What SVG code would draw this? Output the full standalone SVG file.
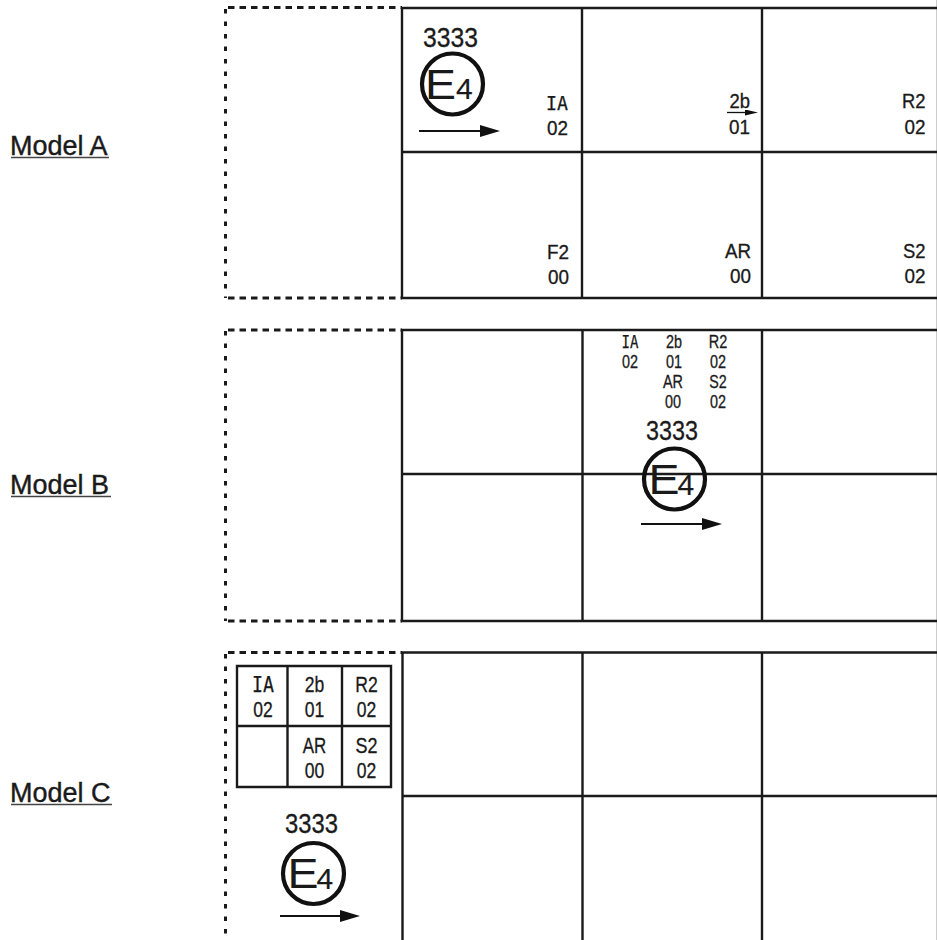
<svg xmlns="http://www.w3.org/2000/svg" width="937" height="940" viewBox="0 0 937 940">
<style>
.t{font-family:"Liberation Sans",Arial,sans-serif;fill:#1a1a1a;stroke:#1a1a1a;stroke-width:0.3}
.m{font-family:"DejaVu Sans Mono","Liberation Mono",monospace;fill:#1a1a1a;stroke:#1a1a1a;stroke-width:0.25}
.lbl{font-size:27px;stroke-width:0.4}
.a{font-size:19.5px;text-anchor:end}
.b{font-size:17.5px;text-anchor:middle}
.c{font-size:21.5px;text-anchor:middle}
.num{font-size:27px;text-anchor:middle}
.E{font-size:42px;stroke-width:0}
.four{font-size:30px;stroke-width:0.2}
.grid{stroke:#1a1a1a;stroke-width:2.4;fill:none}
.dh{stroke:#1a1a1a;stroke-width:3;stroke-dasharray:6.5 5;fill:none}
.dv{stroke:#1a1a1a;stroke-width:3;stroke-dasharray:4.5 8;fill:none}
.ul{stroke:#444;stroke-width:1.7}
.ring{stroke:#111;stroke-width:4.2;fill:none}
.arr{stroke:#111;stroke-width:2.2;marker-end:url(#ah)}
</style>
<defs>
<marker id="ah" markerUnits="userSpaceOnUse" markerWidth="20" markerHeight="12" refX="2" refY="6" orient="auto">
<path d="M0,0 L20,6 L0,12 z" fill="#111"/>
</marker>
<marker id="ahs" markerUnits="userSpaceOnUse" markerWidth="13" markerHeight="6" refX="1" refY="3" orient="auto">
<path d="M0,0 L13,3 L0,6 z" fill="#111"/>
</marker>
</defs>
<rect width="937" height="940" fill="#fff"/>
<line x1="936.5" y1="0" x2="936.5" y2="940" stroke="#ccc" stroke-width="1"/>

<g id="labels">
<g id="label-a"><text class="t lbl" x="10" y="155">Model A</text><line class="ul" x1="11" y1="157.5" x2="109" y2="157.5"/></g>
<g id="label-b"><text class="t lbl" x="10" y="494">Model B</text><line class="ul" x1="11" y1="496.5" x2="111" y2="496.5"/></g>
<g id="label-c"><text class="t lbl" x="10" y="802">Model C</text><line class="ul" x1="11" y1="804.5" x2="112" y2="804.5"/></g>
</g>

<g id="frames">
<g id="frame-a">
<path class="dh" d="M228,7.5 H402 M228,298 H402"/>
<path class="dv" d="M225.5,9 V298"/>
<path class="grid" d="M401,8 H937 M402,8 V298 M582,8 V298 M762,8 V298 M402,152 H937 M401,298 H937"/>
</g>
<g id="frame-b">
<path class="dh" d="M228,330 H402 M228,621 H402"/>
<path class="dv" d="M225.5,331 V621"/>
<path class="grid" d="M401,330 H937 M402,330 V621 M582.5,330 V621 M762,330 V621 M402,474 H937 M401,621 H937"/>
</g>
<g id="frame-c">
<path class="dh" d="M228,652.5 H402"/>
<path class="dv" d="M225.5,654 V940"/>
<path class="grid" d="M401,652.5 H937 M402.5,652.5 V940 M582.5,652.5 V940 M762,652.5 V940 M402,796 H937"/>
</g>
</g>

<g id="model-a">
<g id="a-mark">
<text class="t num" x="450.5" y="46.5" textLength="55" lengthAdjust="spacingAndGlyphs">3333</text>
<circle class="ring" cx="452.5" cy="84" r="30.5"/>
<text class="t E" x="425" y="98.5" textLength="31" lengthAdjust="spacingAndGlyphs">E</text>
<text class="t four" x="456" y="99">4</text>
</g>
<g id="a-cells">
<text class="m a" x="568" y="110" textLength="22" lengthAdjust="spacingAndGlyphs">IA</text>
<text class="t a" x="568" y="134.5" textLength="21" lengthAdjust="spacingAndGlyphs">02</text>
<text class="t a" x="750" y="108" textLength="20.5" lengthAdjust="spacingAndGlyphs">2b</text>
<text class="t a" x="750" y="133.5" textLength="21" lengthAdjust="spacingAndGlyphs">01</text>
<text class="t a" x="925.5" y="107.5" textLength="23.5" lengthAdjust="spacingAndGlyphs">R2</text>
<text class="t a" x="925.5" y="133.5" textLength="21" lengthAdjust="spacingAndGlyphs">02</text>
<text class="t a" x="569" y="258.5" textLength="22" lengthAdjust="spacingAndGlyphs">F2</text>
<text class="t a" x="569" y="283.5" textLength="21" lengthAdjust="spacingAndGlyphs">00</text>
<text class="t a" x="751" y="257.5" textLength="26" lengthAdjust="spacingAndGlyphs">AR</text>
<text class="t a" x="751" y="282.5" textLength="21" lengthAdjust="spacingAndGlyphs">00</text>
<text class="t a" x="925.5" y="257.5" textLength="22.5" lengthAdjust="spacingAndGlyphs">S2</text>
<text class="t a" x="925.5" y="282.5" textLength="21" lengthAdjust="spacingAndGlyphs">02</text>
</g>
</g>

<g id="model-b">
<g id="b-cells">
<text class="m b" x="630" y="348" textLength="17" lengthAdjust="spacingAndGlyphs">IA</text>
<text class="t b" x="630" y="368" textLength="16" lengthAdjust="spacingAndGlyphs">02</text>
<text class="t b" x="674" y="348" textLength="16" lengthAdjust="spacingAndGlyphs">2b</text>
<text class="t b" x="674" y="368" textLength="16" lengthAdjust="spacingAndGlyphs">01</text>
<text class="t b" x="718" y="348" textLength="18.5" lengthAdjust="spacingAndGlyphs">R2</text>
<text class="t b" x="718" y="368" textLength="16" lengthAdjust="spacingAndGlyphs">02</text>
<text class="t b" x="673" y="388" textLength="20" lengthAdjust="spacingAndGlyphs">AR</text>
<text class="t b" x="673" y="407.5" textLength="16" lengthAdjust="spacingAndGlyphs">00</text>
<text class="t b" x="718" y="388" textLength="17.5" lengthAdjust="spacingAndGlyphs">S2</text>
<text class="t b" x="718" y="407.5" textLength="16" lengthAdjust="spacingAndGlyphs">02</text>
</g>
<g id="b-mark">
<text class="t num" x="672" y="440" textLength="52" lengthAdjust="spacingAndGlyphs">3333</text>
<circle class="ring" cx="674.5" cy="479" r="30.5"/>
<text class="t E" x="648.5" y="493.5" textLength="31" lengthAdjust="spacingAndGlyphs">E</text>
<text class="t four" x="677.5" y="494.5">4</text>
</g>
</g>

<g id="model-c">
<g id="c-table">
<path class="grid" d="M237,666 H391 V787 H237 Z M287.5,666 V787 M342,666 V787 M237,726 H391"/>
<text class="m c" x="263" y="692" textLength="22" lengthAdjust="spacingAndGlyphs">IA</text>
<text class="t c" x="263" y="716.5" textLength="19.5" lengthAdjust="spacingAndGlyphs">02</text>
<text class="t c" x="314.5" y="692" textLength="19.5" lengthAdjust="spacingAndGlyphs">2b</text>
<text class="t c" x="314.5" y="716.5" textLength="19.5" lengthAdjust="spacingAndGlyphs">01</text>
<text class="t c" x="366.5" y="692" textLength="22.5" lengthAdjust="spacingAndGlyphs">R2</text>
<text class="t c" x="366.5" y="716.5" textLength="19.5" lengthAdjust="spacingAndGlyphs">02</text>
<text class="t c" x="314.5" y="753" textLength="23.5" lengthAdjust="spacingAndGlyphs">AR</text>
<text class="t c" x="314.5" y="778" textLength="19.5" lengthAdjust="spacingAndGlyphs">00</text>
<text class="t c" x="366.5" y="753" textLength="22" lengthAdjust="spacingAndGlyphs">S2</text>
<text class="t c" x="366.5" y="778" textLength="19.5" lengthAdjust="spacingAndGlyphs">02</text>
</g>
<g id="c-mark">
<text class="t num" x="311.5" y="833" textLength="53" lengthAdjust="spacingAndGlyphs">3333</text>
<circle class="ring" cx="313.5" cy="873.5" r="30.5"/>
<text class="t E" x="287.5" y="888" textLength="31" lengthAdjust="spacingAndGlyphs">E</text>
<text class="t four" x="316.5" y="889">4</text>
</g>
</g>

<g id="connectors">
<line class="arr" x1="419" y1="131" x2="482" y2="131"/>
<line class="arr" x1="641" y1="524" x2="704" y2="524"/>
<line class="arr" x1="280" y1="916" x2="342" y2="916"/>
<line x1="727" y1="112.5" x2="746" y2="112.5" stroke="#111" stroke-width="1.3" marker-end="url(#ahs)"/>
</g>
</svg>
